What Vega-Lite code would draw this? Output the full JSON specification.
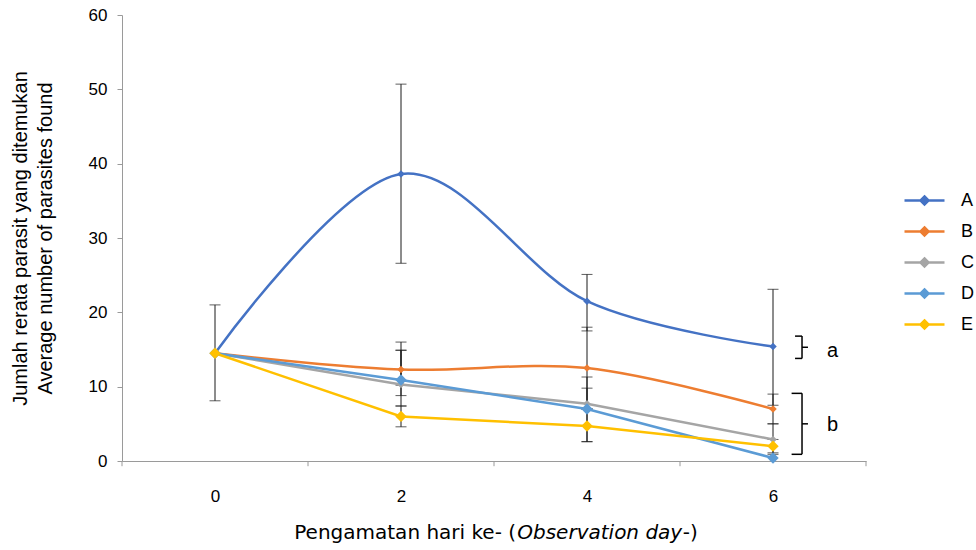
{
  "$schema": "https://vega.github.io/schema/vega-lite/v6.json",
  "autosize": "none",
  "width": 744,
  "height": 446,
  "padding": {"left": 122, "top": 15, "right": 110, "bottom": 89},
  "background": "white",
  "config": {
    "view": {"stroke": null},
    "font": "Liberation Sans",
    "axis": {"grid": false, "domainColor": "#9a9a9a", "tickColor": "#9a9a9a", "labelColor": "#000", "titleColor": "#000", "labelFont": "Liberation Sans", "titleFont": "Liberation Sans", "labelFontSize": 17, "titleFontSize": 20, "titleFontWeight": "normal"},
    "legend": {"labelFont": "Liberation Sans", "labelFontSize": 18, "labelColor": "#000"}
  },
  "datasets": {
    "series": [
      {"group": "A", "day": 0, "value": 14.5}, {"group": "A", "day": 2, "value": 38.6}, {"group": "A", "day": 4, "value": 21.5}, {"group": "A", "day": 6, "value": 15.4},
      {"group": "B", "day": 0, "value": 14.5}, {"group": "B", "day": 2, "value": 12.3}, {"group": "B", "day": 4, "value": 12.5}, {"group": "B", "day": 6, "value": 7.0},
      {"group": "C", "day": 0, "value": 14.5}, {"group": "C", "day": 2, "value": 10.3}, {"group": "C", "day": 4, "value": 7.7}, {"group": "C", "day": 6, "value": 2.9},
      {"group": "D", "day": 0, "value": 14.5}, {"group": "D", "day": 2, "value": 10.9}, {"group": "D", "day": 4, "value": 7.0}, {"group": "D", "day": 6, "value": 0.4},
      {"group": "E", "day": 0, "value": 14.5}, {"group": "E", "day": 2, "value": 6.0}, {"group": "E", "day": 4, "value": 4.7}, {"group": "E", "day": 6, "value": 2.0}
    ],
    "errors": [
      {"group": "A", "day": 0, "lo": 8.1, "hi": 21.0},
      {"group": "A", "day": 2, "lo": 26.6, "hi": 50.7},
      {"group": "B", "day": 2, "lo": 8.8, "hi": 16.0},
      {"group": "C", "day": 2, "lo": 10.2, "hi": 14.9},
      {"group": "D", "day": 2, "lo": 7.4, "hi": 14.9},
      {"group": "E", "day": 2, "lo": 4.6, "hi": 7.4},
      {"group": "A", "day": 4, "lo": 17.5, "hi": 25.1},
      {"group": "B", "day": 4, "lo": 7.0, "hi": 18.0},
      {"group": "C", "day": 4, "lo": 7.0, "hi": 9.8},
      {"group": "D", "day": 4, "lo": 2.6, "hi": 11.3},
      {"group": "E", "day": 4, "lo": 2.6, "hi": 7.0},
      {"group": "A", "day": 6, "lo": 7.5, "hi": 23.1},
      {"group": "B", "day": 6, "lo": 5.0, "hi": 9.0},
      {"group": "C", "day": 6, "lo": 0.9, "hi": 5.0},
      {"group": "E", "day": 6, "lo": 1.1, "hi": 2.9}
    ],
    "xticks": [{"day": -1}, {"day": 1}, {"day": 3}, {"day": 5}, {"day": 7}],
    "braces": [
      {"x1": 6.237, "x2": 6.312, "y1": 16.8, "y2": 16.8},
      {"x1": 6.237, "x2": 6.312, "y1": 13.8, "y2": 13.8},
      {"x1": 6.312, "x2": 6.312, "y1": 13.8, "y2": 16.8},
      {"x1": 6.312, "x2": 6.376, "y1": 15.3, "y2": 15.3},
      {"x1": 6.20, "x2": 6.312, "y1": 9.1, "y2": 9.1},
      {"x1": 6.20, "x2": 6.312, "y1": 0.9, "y2": 0.9},
      {"x1": 6.312, "x2": 6.312, "y1": 0.9, "y2": 9.1},
      {"x1": 6.312, "x2": 6.376, "y1": 5.0, "y2": 5.0}
    ],
    "bracelabels": [{"x": 6.64, "y": 14.8, "label": "a"}, {"x": 6.64, "y": 4.8, "label": "b"}],
    "xtitle": [
      {"x": 3.237, "y": -9.7, "t": "Pengamatan hari ke- (", "part": "a"},
      {"x": 3.25, "y": -9.7, "t": "Observation day", "part": "b"},
      {"x": 5.03, "y": -9.7, "t": "-)", "part": "c"}
    ]
  },
  "layer": [
    {
      "data": {"name": "xticks"},
      "mark": {"type": "rule", "color": "#9a9a9a", "strokeWidth": 1},
      "encoding": {
        "x": {"field": "day", "type": "quantitative", "scale": {"domain": [-1, 7], "nice": false, "zero": false},
              "axis": {"values": [0, 2, 4, 6], "format": "d", "ticks": false, "labelPadding": 27, "title": null, "labelFontSize": 17}},
        "y": {"datum": 0, "type": "quantitative", "scale": {"domain": [0, 60], "nice": false},
              "axis": {"values": [0, 10, 20, 30, 40, 50, 60], "format": "d", "tickSize": 5, "labelPadding": 10,
                       "title": ["Jumlah rerata parasit yang ditemukan", "Average number of parasites found"],
                       "titleAngle": -90, "titleX": -112, "titleY": 223, "titleAlign": "center", "titleBaseline": "top", "titleLineHeight": 25, "titleFontSize": 20}},
        "y2": {"datum": -0.7}
      }
    },
    {
      "data": {"name": "errors"},
      "mark": {"type": "rule", "color": "#1a1a1a", "strokeWidth": 1},
      "encoding": {
        "x": {"field": "day", "type": "quantitative"},
        "y": {"field": "lo", "type": "quantitative"},
        "y2": {"field": "hi"}
      }
    },
    {
      "data": {"name": "errors"},
      "mark": {"type": "tick", "color": "#1a1a1a", "orient": "horizontal", "size": 11, "thickness": 1},
      "encoding": {
        "x": {"field": "day", "type": "quantitative"},
        "y": {"field": "lo", "type": "quantitative"}
      }
    },
    {
      "data": {"name": "errors"},
      "mark": {"type": "tick", "color": "#1a1a1a", "orient": "horizontal", "size": 11, "thickness": 1},
      "encoding": {
        "x": {"field": "day", "type": "quantitative"},
        "y": {"field": "hi", "type": "quantitative"}
      }
    },
    {
      "data": {"name": "series"},
      "transform": [{"filter": "datum.group === 'A' || datum.group === 'B'"}],
      "mark": {"type": "line", "interpolate": "cardinal", "strokeWidth": 2.5},
      "encoding": {
        "x": {"field": "day", "type": "quantitative"},
        "y": {"field": "value", "type": "quantitative"},
        "color": {"field": "group", "type": "nominal",
                  "scale": {"domain": ["A", "B", "C", "D", "E"], "range": ["#4472C4", "#ED7D31", "#A5A5A5", "#5B9BD5", "#FFC000"]},
                  "legend": {"title": null, "orient": "none", "legendX": 781, "legendY": 164, "padding": 0, "rowPadding": -10,
                             "symbolType": "M-1,0L1,0M0,-0.2L0.2,0L0,0.2L-0.2,0Z", "symbolSize": 1600, "symbolStrokeWidth": 2.5, "labelOffset": 15, "labelFontSize": 18,
                             "encode": {"symbols": {"update": {"size": {"value": 1600}, "shape": {"value": "M-1,0L1,0M0,-0.2L0.2,0L0,0.2L-0.2,0Z"}, "strokeWidth": {"value": 2.5}, "fill": {"scale": "color", "field": "value"}, "stroke": {"scale": "color", "field": "value"}}}}}}
      }
    },
    {
      "data": {"name": "series"},
      "transform": [{"filter": "datum.group !== 'A' && datum.group !== 'B'"}],
      "mark": {"type": "line", "interpolate": "linear", "strokeWidth": 2.5},
      "encoding": {
        "x": {"field": "day", "type": "quantitative"},
        "y": {"field": "value", "type": "quantitative"},
        "color": {"field": "group", "type": "nominal", "legend": null}
      }
    },
    {
      "data": {"name": "series"},
      "transform": [{"filter": "datum.group === 'A' || datum.group === 'B' || datum.group === 'C'"}],
      "mark": {"type": "point", "shape": "diamond", "filled": true, "opacity": 1, "size": 56},
      "encoding": {
        "x": {"field": "day", "type": "quantitative"},
        "y": {"field": "value", "type": "quantitative"},
        "color": {"field": "group", "type": "nominal", "legend": null}
      }
    },
    {
      "data": {"name": "series"},
      "transform": [{"filter": "datum.group === 'D' || datum.group === 'E'"}],
      "mark": {"type": "point", "shape": "diamond", "filled": true, "opacity": 1, "size": 130},
      "encoding": {
        "x": {"field": "day", "type": "quantitative"},
        "y": {"field": "value", "type": "quantitative"},
        "color": {"field": "group", "type": "nominal", "legend": null}
      }
    },
    {
      "data": {"name": "braces"},
      "mark": {"type": "rule", "color": "#000", "strokeWidth": 1.5},
      "encoding": {
        "x": {"field": "x1", "type": "quantitative"},
        "x2": {"field": "x2"},
        "y": {"field": "y1", "type": "quantitative"},
        "y2": {"field": "y2"}
      }
    },
    {
      "data": {"name": "bracelabels"},
      "mark": {"type": "text", "fontSize": 20, "font": "Liberation Sans", "color": "#000", "align": "center", "baseline": "middle"},
      "encoding": {
        "x": {"field": "x", "type": "quantitative"},
        "y": {"field": "y", "type": "quantitative"},
        "text": {"field": "label"}
      }
    },
    {
      "data": {"name": "xtitle"},
      "transform": [{"filter": "datum.part === 'a'"}],
      "mark": {"type": "text", "fontSize": 20, "font": "DejaVu Sans", "color": "#000", "align": "right", "baseline": "middle"},
      "encoding": {"x": {"field": "x", "type": "quantitative"}, "y": {"field": "y", "type": "quantitative"}, "text": {"field": "t"}}
    },
    {
      "data": {"name": "xtitle"},
      "transform": [{"filter": "datum.part === 'b'"}],
      "mark": {"type": "text", "fontSize": 20, "font": "DejaVu Sans", "fontStyle": "italic", "color": "#000", "align": "left", "baseline": "middle"},
      "encoding": {"x": {"field": "x", "type": "quantitative"}, "y": {"field": "y", "type": "quantitative"}, "text": {"field": "t"}}
    },
    {
      "data": {"name": "xtitle"},
      "transform": [{"filter": "datum.part === 'c'"}],
      "mark": {"type": "text", "fontSize": 20, "font": "DejaVu Sans", "color": "#000", "align": "left", "baseline": "middle"},
      "encoding": {"x": {"field": "x", "type": "quantitative"}, "y": {"field": "y", "type": "quantitative"}, "text": {"field": "t"}}
    }
  ]
}
